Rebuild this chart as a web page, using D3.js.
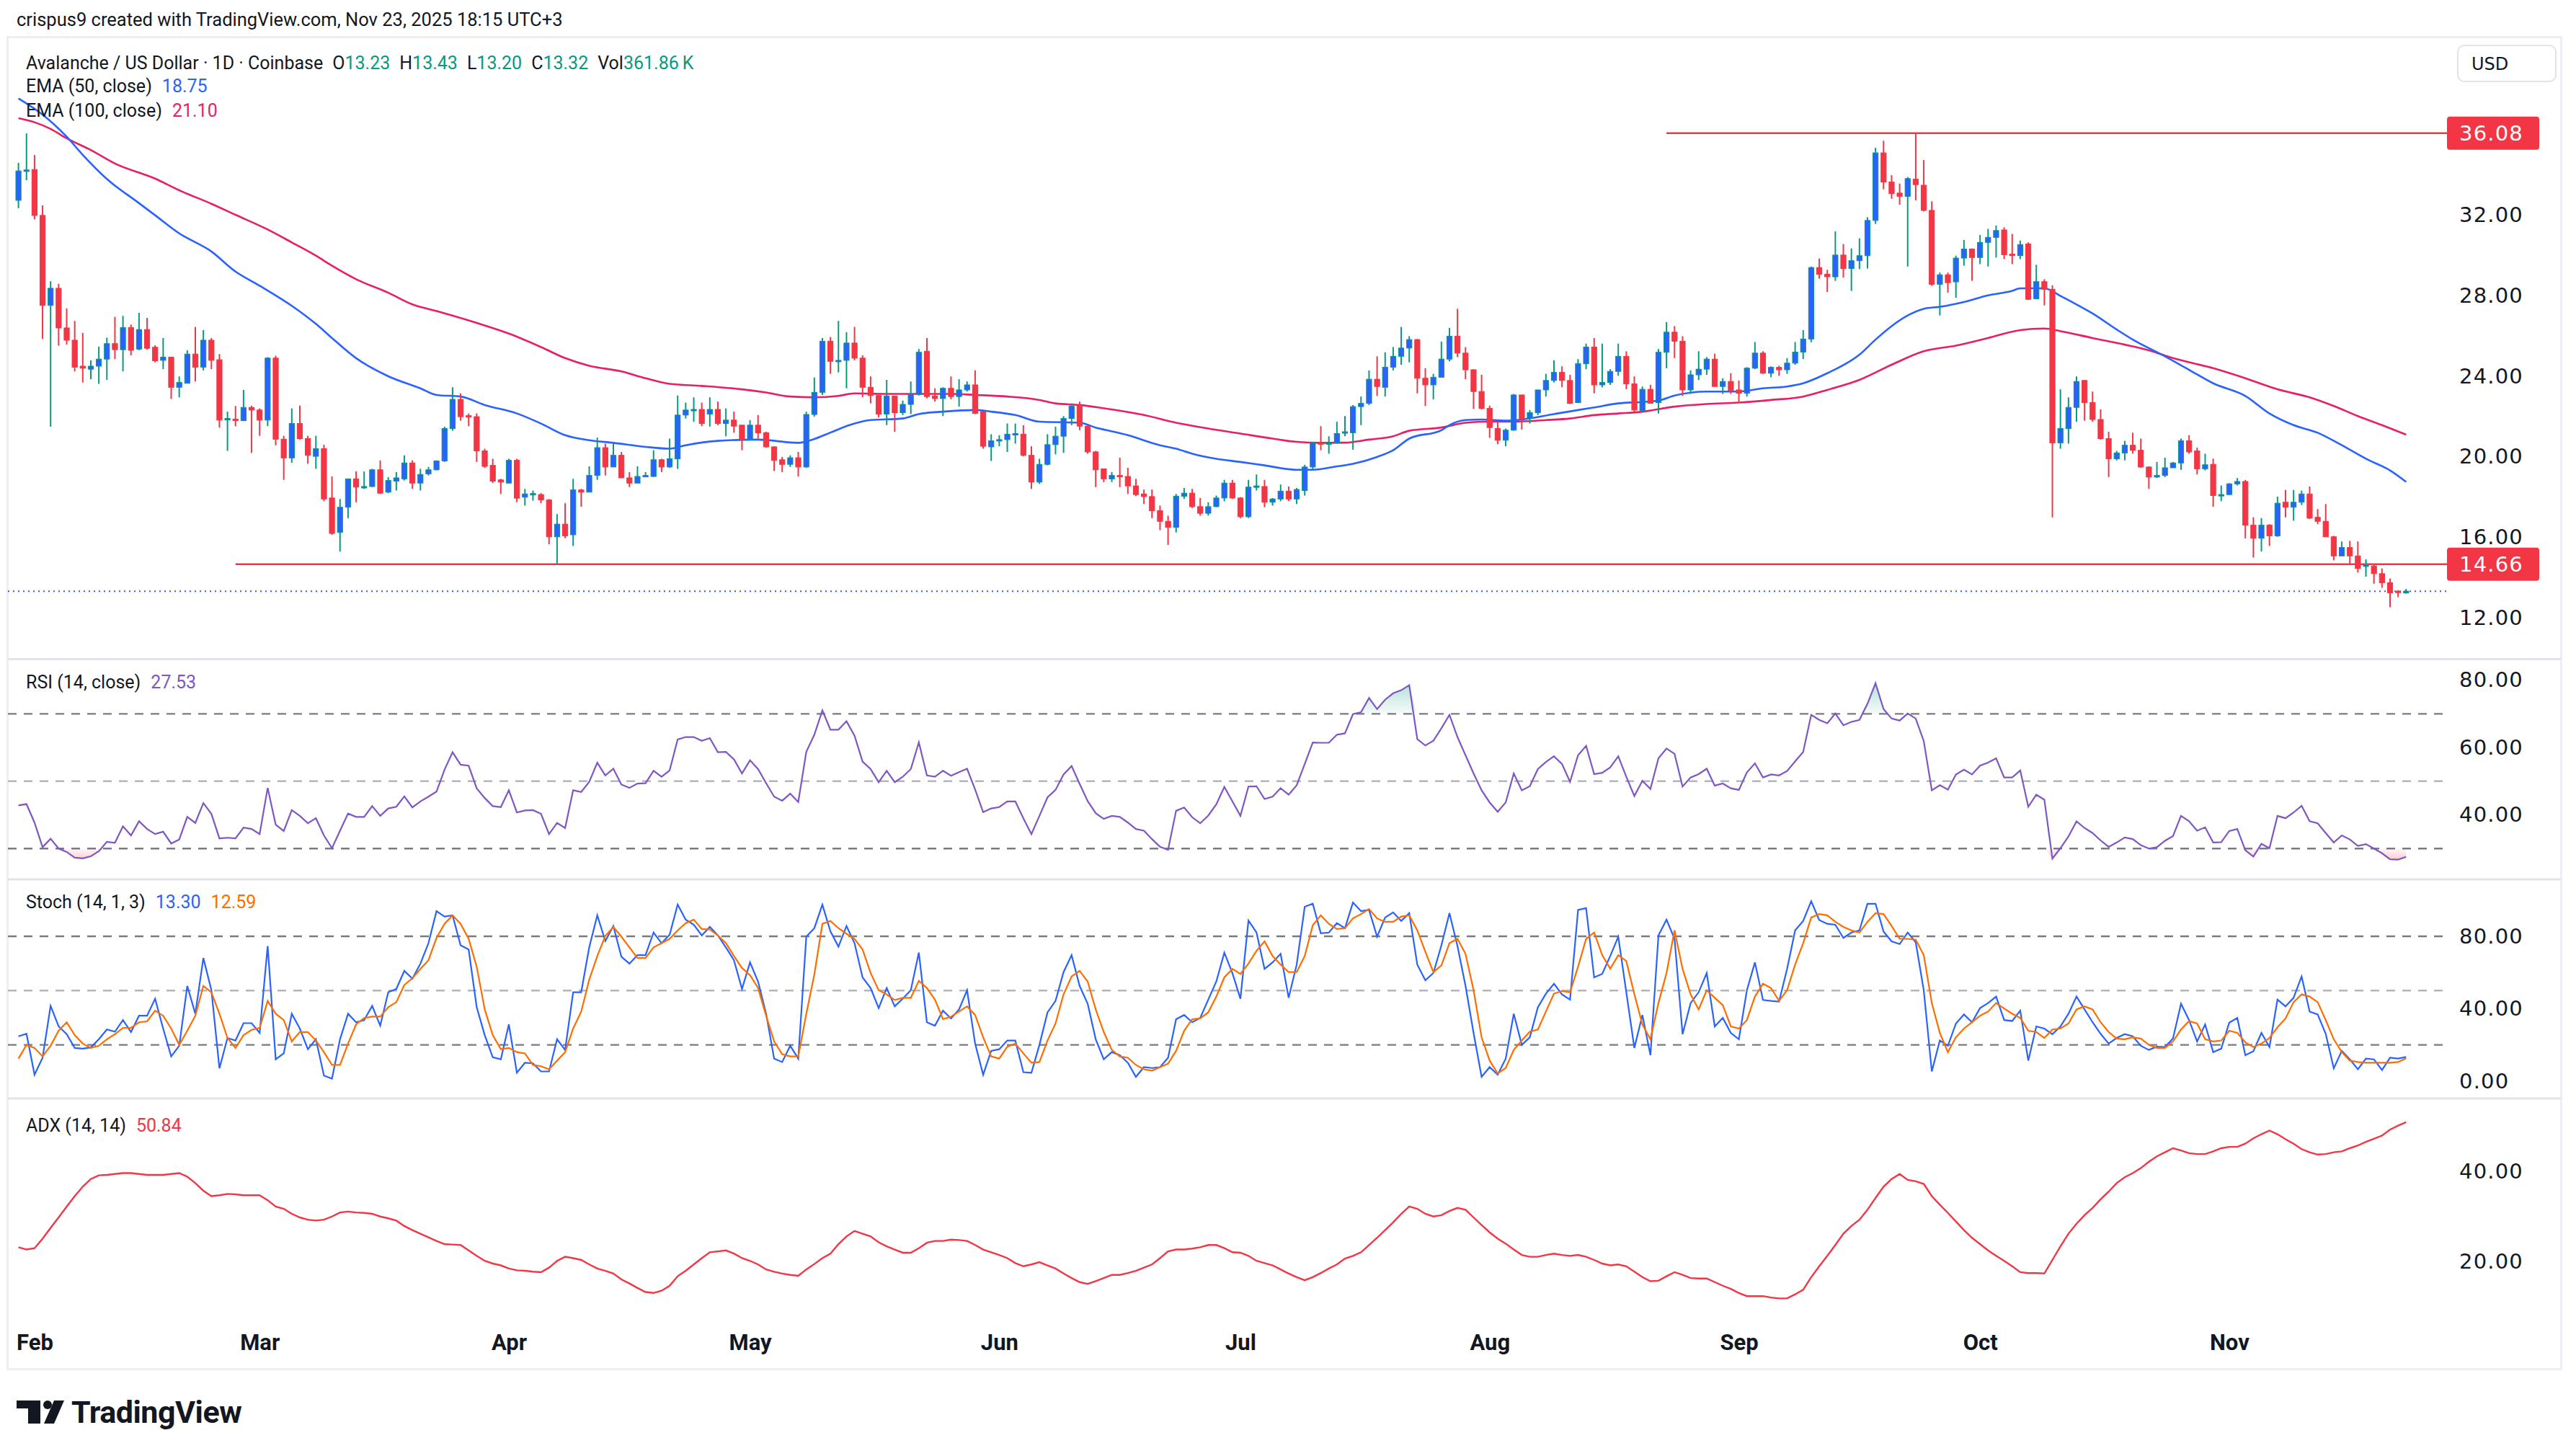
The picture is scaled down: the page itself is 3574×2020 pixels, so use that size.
<!DOCTYPE html>
<html>
<head>
<meta charset="utf-8">
<script src="https://d3js.org/d3.v7.min.js"></script>
<style>
  html, body { margin: 0; padding: 0; background: #fff; }
  svg { display: block; }
</style>
</head>
<body>
<div id="chart"></div>
<script>

// ---- data (daily bars, first bar = 2025-01-30) ----
var firstBar = "2025-01-30";

var opens = [
  32.74, 34.2, 34.27, 31.99, 27.52, 28.37, 26.4, 25.79, 24.5, 24.35, 24.5, 24.85,
  25.62, 25.32, 26.42, 25.35, 26.32, 25.44, 24.79, 24.95, 23.45, 23.65,
  25.1, 24.45, 25.79, 24.82, 21.85, 21.87, 21.79, 22.45, 22.32, 21.82,
  24.9, 20.87, 19.94, 21.65, 20.9, 20.02, 20.4, 17.95, 16.24, 17.49,
  18.9, 18.5, 18.52, 19.35, 18.24, 18.79, 18.9, 19.69, 18.69, 19.15,
  19.35, 19.79, 21.4, 22.85, 22.04, 21.99, 20.29, 19.57, 18.85, 18.69,
  19.82, 17.99, 18.15, 18.12, 17.85, 16.02, 16.65, 16.12, 18.35, 18.24,
  19.07, 20.45, 19.49, 20.07, 18.95, 18.69, 19.02, 19.02, 19.85, 19.49,
  19.9, 22.07, 22.32, 22.35, 22.12, 22.35, 21.65, 21.82, 21.57, 20.85,
  21.57, 21.19, 20.49, 19.85, 19.62, 19.95, 19.49, 22.1, 23.2, 25.74,
  24.74, 24.79, 25.65, 24.9, 23.45, 23.04, 22.12, 23.02, 22.19, 22.6,
  23.1, 25.24, 23.02, 22.89, 23.4, 22.99, 23.32, 23.57, 22.24, 20.49,
  20.79, 20.85, 21.12, 21.12, 20.07, 18.74, 19.62, 20.6, 21.02, 21.9,
  22.52, 21.52, 20.24, 19.4, 18.9, 19.07, 19.02, 18.55, 18.15, 18.02,
  17.32, 16.79, 16.49, 18.04, 18.19, 17.52, 17.19, 17.52, 17.95, 18.69,
  17.95, 17.02, 18.52, 18.52, 17.74, 17.9, 18.29, 17.9, 18.32, 19.49,
  20.69, 20.65, 20.69, 21.19, 21.19, 22.49, 22.65, 23.85, 23.45, 24.45,
  24.99, 25.4, 25.82, 23.9, 23.57, 23.95, 24.85, 25.99, 25.15, 24.32,
  23.24, 22.4, 21.4, 20.82, 21.32, 23.07, 21.9, 22.19, 23.32, 23.79,
  24.19, 23.79, 22.69, 24.62, 25.45, 23.57, 23.69, 24.24, 24.99, 23.62,
  22.29, 23.35, 22.69, 25.19, 26.19, 25.74, 23.32, 24.07, 24.35, 24.85,
  23.49, 23.74, 23.32, 23.15, 24.4, 25.15, 24.15, 24.44, 24.32, 24.65,
  25.2, 25.85, 29.4, 29.07, 28.94, 30.02, 29.35, 29.74, 29.99, 31.74,
  35.1, 33.65, 33.1, 32.94, 33.79, 33.49, 32.24, 28.57, 29.04, 28.69,
  29.87, 30.32, 29.9, 30.65, 30.9, 31.27, 30.07, 29.99, 30.57, 27.85,
  28.7, 28.32, 20.69, 21.4, 22.45, 23.79, 22.69, 21.85, 20.9, 19.9,
  20.19, 20.57, 20.32, 19.49, 18.99, 19.07, 19.45, 19.69, 20.79, 20.29,
  19.4, 19.62, 18.07, 18.12, 18.65, 18.77, 16.6, 15.95, 16.6, 16.07,
  17.74, 17.49, 17.74, 18.15, 16.99, 16.79, 16.02, 15.07, 15.49, 15.07,
  14.57, 14.57, 14.19, 13.74, 13.32, 13.23
];

var highs = [
  34.6, 36.07, 34.99, 32.49, 28.72, 28.59, 27.37, 26.75, 26.15, 24.79, 25.47, 25.92,
  26.95, 27.0, 26.57, 27.15, 26.9, 25.54, 25.9, 24.95, 23.99, 25.29,
  26.45, 26.29, 25.9, 25.1, 22.24, 22.52, 23.32, 22.54, 22.4, 24.95,
  25.02, 21.04, 22.4, 22.54, 21.04, 21.04, 20.6, 19.02, 17.9, 18.9,
  19.27, 19.27, 19.4, 19.82, 18.99, 19.24, 20.07, 19.82, 19.4, 19.49,
  19.82, 21.49, 23.45, 23.15, 22.15, 22.15, 20.4, 19.9, 18.9, 19.9,
  19.9, 18.4, 18.32, 18.19, 17.9, 17.15, 17.69, 18.9, 18.4, 19.52,
  20.95, 20.65, 20.65, 20.24, 19.24, 19.52, 19.24, 20.32, 19.9, 20.9,
  23.04, 22.69, 22.95, 22.69, 22.95, 22.74, 22.4, 22.24, 21.57, 21.82,
  22.07, 21.24, 20.52, 19.99, 20.07, 20.24, 22.24, 23.94, 25.9, 25.95,
  26.75, 26.19, 26.45, 25.04, 23.99, 23.07, 23.82, 23.02, 22.79, 23.74,
  25.35, 25.9, 23.4, 23.45, 23.99, 23.85, 23.74, 24.29, 22.24, 21.12,
  21.07, 21.65, 21.65, 21.57, 20.52, 19.9, 21.12, 21.49, 22.02, 22.65,
  22.74, 21.57, 20.29, 19.4, 19.24, 19.95, 19.45, 18.9, 18.37, 18.37,
  17.57, 17.07, 18.15, 18.45, 18.4, 17.95, 17.74, 18.07, 18.85, 18.85,
  17.99, 18.85, 19.12, 18.85, 17.95, 18.62, 18.52, 18.45, 19.6, 20.74,
  21.52, 21.02, 21.74, 22.02, 22.57, 22.99, 24.29, 24.99, 25.19, 25.45,
  26.45, 25.99, 25.85, 24.4, 24.12, 25.72, 26.4, 27.35, 25.45, 24.35,
  24.07, 22.54, 21.74, 21.4, 23.12, 23.07, 22.32, 23.32, 24.12, 24.79,
  24.49, 24.07, 24.85, 25.62, 25.9, 25.62, 24.35, 25.62, 25.24, 23.99,
  23.49, 23.57, 25.35, 26.69, 26.49, 25.99, 24.29, 25.24, 24.95, 25.12,
  23.9, 24.15, 23.79, 24.45, 25.7, 25.24, 24.49, 24.52, 24.9, 25.7,
  26.29, 29.45, 29.85, 29.29, 31.2, 30.57, 30.35, 30.85, 31.9, 35.35,
  35.7, 33.99, 33.57, 33.9, 36.08, 34.74, 32.69, 29.15, 29.15, 29.99,
  30.77, 30.35, 31.02, 31.32, 31.49, 31.4, 31.07, 30.74, 30.65, 29.54,
  28.82, 28.52, 23.35, 22.95, 23.99, 23.82, 23.24, 22.35, 21.24, 20.29,
  20.79, 21.19, 20.9, 19.52, 19.74, 19.95, 19.74, 20.9, 21.07, 20.45,
  20.15, 19.9, 18.57, 18.69, 18.94, 18.85, 16.99, 16.95, 16.65, 18.02,
  18.35, 18.35, 18.32, 18.52, 17.4, 17.65, 16.07, 15.79, 15.82, 15.79,
  14.9, 14.65, 14.45, 13.95, 13.37, 13.43
];

var lows = [
  32.35, 33.74, 31.79, 25.85, 21.49, 25.52, 25.57, 24.24, 23.69, 23.85, 23.62, 23.82,
  24.85, 24.24, 25.04, 25.29, 25.32, 24.69, 24.35, 22.87, 22.95, 23.65,
  23.74, 24.29, 24.35, 21.45, 20.29, 21.52, 21.79, 20.19, 21.04, 21.52,
  20.57, 18.85, 19.7, 20.85, 19.65, 19.4, 17.79, 16.12, 15.29, 16.95,
  17.74, 18.4, 18.49, 18.15, 18.19, 18.32, 18.82, 18.4, 18.32, 19.07,
  19.32, 19.74, 21.29, 21.79, 21.52, 19.74, 19.45, 18.69, 18.15, 18.69,
  17.74, 17.57, 17.82, 17.69, 15.65, 14.66, 15.95, 15.57, 17.52, 18.24,
  18.85, 19.07, 19.49, 18.95, 18.49, 18.69, 18.99, 18.99, 19.24, 19.45,
  19.4, 21.9, 21.74, 21.52, 21.5, 21.57, 21.02, 21.19, 20.32, 20.82,
  20.9, 20.45, 19.29, 19.24, 19.49, 19.02, 19.45, 21.99, 23.07, 24.12,
  24.19, 23.4, 24.79, 22.95, 22.65, 21.95, 21.57, 21.24, 22.07, 22.12,
  23.04, 22.9, 22.74, 22.02, 22.85, 22.49, 23.24, 22.12, 20.4, 19.79,
  20.52, 20.24, 20.65, 20.02, 18.4, 18.65, 19.57, 20.12, 20.19, 21.57,
  21.32, 20.15, 18.49, 18.74, 18.74, 18.49, 18.15, 18.04, 17.65, 16.95,
  16.35, 15.62, 16.24, 17.9, 17.45, 17.07, 17.07, 17.49, 17.79, 17.9,
  16.95, 16.95, 18.32, 17.49, 17.57, 17.79, 17.79, 17.65, 18.07, 19.32,
  20.32, 20.15, 20.65, 21.02, 20.35, 21.57, 22.57, 23.02, 22.99, 24.29,
  24.57, 24.69, 23.15, 22.52, 22.85, 23.95, 24.74, 24.95, 23.85, 22.37,
  22.35, 20.94, 20.62, 20.52, 21.29, 21.35, 21.65, 22.07, 22.99, 23.69,
  23.45, 22.62, 22.69, 24.35, 23.15, 23.45, 23.57, 24.02, 23.35, 22.24,
  22.19, 22.65, 22.15, 24.4, 24.9, 23.02, 23.12, 23.82, 24.07, 23.49,
  23.12, 23.12, 22.69, 22.99, 24.35, 24.12, 23.95, 24.02, 24.12, 24.57,
  24.85, 25.69, 28.85, 28.19, 28.74, 28.9, 28.24, 29.32, 29.35, 31.57,
  33.29, 32.82, 32.52, 29.45, 32.74, 32.19, 28.49, 27.02, 28.15, 27.9,
  29.49, 28.74, 29.57, 29.45, 29.9, 29.82, 29.57, 29.82, 27.79, 27.82,
  27.52, 16.99, 20.4, 20.65, 21.74, 21.79, 21.74, 20.85, 18.99, 19.82,
  19.82, 20.15, 19.45, 18.4, 18.95, 18.99, 19.45, 19.35, 20.15, 19.12,
  19.32, 17.52, 17.79, 18.1, 18.57, 15.94, 14.99, 15.29, 15.57, 16.02,
  16.99, 16.82, 17.6, 16.9, 16.65, 16.02, 14.85, 15.07, 14.62, 14.24,
  14.04, 13.69, 13.49, 12.52, 13.02, 13.20
];

var closes = [
  34.2, 34.25, 31.99, 27.52, 28.37, 26.4, 25.79, 24.45, 24.4, 24.5, 24.85, 25.62,
  25.32, 26.42, 25.29, 26.32, 25.39, 24.77, 24.95, 23.45, 23.69, 25.1,
  24.45, 25.79, 24.79, 21.82, 21.9, 21.79, 22.45, 22.32, 21.82, 24.9,
  20.87, 19.94, 21.65, 20.9, 20.07, 20.4, 17.9, 16.19, 17.49, 18.9,
  18.49, 18.52, 19.35, 18.19, 18.82, 18.95, 19.69, 18.69, 19.12, 19.35,
  19.79, 21.4, 22.85, 21.99, 21.99, 20.29, 19.52, 18.79, 18.74, 19.82,
  17.94, 18.15, 18.17, 17.85, 16.02, 16.65, 16.07, 18.35, 18.24, 19.07,
  20.45, 19.49, 20.07, 18.95, 18.69, 19.02, 19.07, 19.85, 19.49, 19.9,
  22.07, 22.32, 22.35, 21.65, 22.35, 21.65, 21.82, 21.52, 20.85, 21.57,
  21.19, 20.49, 19.82, 19.62, 19.95, 19.49, 22.1, 23.2, 25.74, 24.74,
  24.79, 25.65, 24.9, 23.45, 23.04, 22.12, 23.02, 22.19, 22.6, 23.1,
  25.19, 22.99, 22.89, 23.4, 22.99, 23.32, 23.57, 22.15, 20.52, 20.79,
  20.85, 21.12, 21.15, 20.07, 18.74, 19.62, 20.6, 21.02, 21.9, 22.52,
  21.52, 20.24, 19.35, 18.9, 19.07, 19.02, 18.55, 18.12, 18.02, 17.32,
  16.79, 16.49, 18.04, 18.19, 17.52, 17.19, 17.52, 17.95, 18.69, 17.95,
  17.02, 18.49, 18.55, 17.74, 17.9, 18.29, 17.9, 18.37, 19.49, 20.69,
  20.65, 20.69, 21.15, 21.24, 22.49, 22.65, 23.85, 23.49, 24.45, 24.99,
  25.4, 25.82, 23.9, 23.57, 23.95, 24.85, 25.99, 25.15, 24.32, 23.24,
  22.4, 21.45, 20.82, 21.32, 23.07, 21.9, 22.19, 23.32, 23.79, 24.19,
  23.79, 22.65, 24.62, 25.45, 23.57, 23.69, 24.24, 24.99, 23.62, 22.32,
  23.35, 22.65, 25.19, 26.19, 25.74, 23.32, 24.07, 24.35, 24.85, 23.49,
  23.74, 23.29, 23.15, 24.4, 25.15, 24.15, 24.44, 24.32, 24.65, 25.2,
  25.85, 29.4, 29.07, 28.94, 30.02, 29.35, 29.74, 29.99, 31.74, 35.1,
  33.65, 33.07, 32.94, 33.82, 33.52, 32.24, 28.57, 29.04, 28.65, 29.87,
  30.32, 29.9, 30.65, 30.9, 31.24, 30.04, 30.02, 30.54, 27.82, 28.7,
  28.32, 20.69, 21.4, 22.45, 23.74, 22.69, 21.85, 20.9, 19.9, 20.19,
  20.57, 20.32, 19.49, 18.99, 19.07, 19.45, 19.69, 20.79, 20.24, 19.4,
  19.6, 18.07, 18.12, 18.65, 18.77, 16.6, 15.95, 16.6, 16.07, 17.69,
  17.49, 17.74, 18.15, 16.95, 16.79, 16.02, 15.07, 15.49, 15.07, 14.45,
  14.62, 14.19, 13.74, 13.24, 13.27, 13.32
];

// EMA lines: [bar index, value]
var ema50 = [
  [0, 37.8], [3, 37.0], [6, 35.9], [8, 35.0], [11, 33.8], [15, 32.6], [17, 32.0], [20, 31.1],
  [24, 30.2], [27, 29.2], [30, 28.5], [34, 27.5], [37, 26.6], [39, 25.9], [42, 24.9], [46, 24.0],
  [50, 23.4], [52, 23.07], [55, 22.99], [58, 22.57], [62, 22.15], [65, 21.65], [68, 21.07],
  [71, 20.82], [74, 20.69], [78, 20.49], [81, 20.4], [83, 20.57], [87, 20.79], [92, 20.85],
  [97, 20.69], [99, 20.88], [101, 21.2], [104, 21.65], [106, 21.82], [110, 21.9], [112, 22.12],
  [115, 22.24], [119, 22.32], [121, 22.24], [124, 22.07], [127, 21.74], [132, 21.69], [134, 21.45],
  [138, 21.07], [142, 20.57], [144, 20.4], [146, 20.15], [149, 19.9], [152, 19.74], [155, 19.57],
  [159, 19.35], [161, 19.35], [164, 19.52], [166, 19.65], [169, 19.99], [171, 20.32], [173, 20.9],
  [177, 21.32], [178, 21.57], [180, 21.82], [182, 21.85], [185, 21.79], [187, 21.85], [191, 22.12],
  [194, 22.32], [196, 22.45], [199, 22.65], [202, 22.72], [204, 22.79], [206, 23.04], [210, 23.24],
  [214, 23.24], [217, 23.4], [220, 23.49], [222, 23.65], [225, 24.15], [229, 25.07], [231, 25.82],
  [233, 26.49], [235, 27.02], [237, 27.35], [239, 27.45], [242, 27.69], [245, 28.02], [248, 28.24],
  [249, 28.37], [252, 28.37], [254, 27.99], [256, 27.57], [258, 27.12], [261, 26.32], [263, 25.82],
  [267, 24.99], [270, 24.32], [273, 23.65], [277, 23.02], [280, 22.15], [283, 21.57], [286, 21.19],
  [289, 20.57], [292, 19.9], [295, 19.32], [297, 18.75]
];

var ema100 = [
  [0, 36.82], [2, 36.62], [4, 36.29], [6, 35.82], [9, 35.24], [12, 34.57], [17, 33.82], [20, 33.24],
  [24, 32.57], [27, 32.02], [31, 31.29], [34, 30.65], [37, 29.99], [39, 29.49], [42, 28.82],
  [46, 28.15], [49, 27.57], [52, 27.24], [57, 26.65], [61, 26.12], [65, 25.45], [68, 24.9],
  [71, 24.52], [75, 24.24], [78, 23.9], [81, 23.62], [85, 23.52], [90, 23.35], [93, 23.19],
  [96, 22.99], [99, 22.95], [102, 23.02], [104, 23.15], [108, 23.12], [116, 23.12], [119, 23.07],
  [123, 22.99], [127, 22.82], [129, 22.65], [132, 22.57], [136, 22.35], [140, 22.07], [144, 21.69],
  [148, 21.4], [152, 21.15], [156, 20.9], [159, 20.74], [162, 20.69], [165, 20.7], [168, 20.85],
  [171, 21.02], [173, 21.29], [177, 21.45], [180, 21.69], [183, 21.74], [186, 21.74], [190, 21.82],
  [193, 21.9], [196, 22.07], [199, 22.15], [202, 22.24], [206, 22.49], [210, 22.62], [214, 22.69],
  [218, 22.82], [222, 22.99], [225, 23.32], [229, 23.82], [233, 24.57], [237, 25.24], [241, 25.52],
  [245, 25.9], [249, 26.29], [252, 26.37], [254, 26.24], [258, 25.9], [262, 25.57], [265, 25.29],
  [268, 24.9], [273, 24.4], [277, 23.9], [281, 23.35], [285, 22.95], [288, 22.52], [291, 22.02],
  [294, 21.57], [297, 21.10]
];

var rsi = [
  42.8, 43.2, 37.7, 30.4, 32.9, 30.0, 29.0, 27.3, 27.1, 27.7, 29.2, 32.0,
  31.7, 36.6, 33.9, 38.1, 35.8, 34.3, 35.0, 31.5, 32.7, 39.4,
  37.6, 43.5, 40.3, 33.0, 33.2, 33.0, 36.2, 35.8, 34.3, 48.0,
  37.1, 35.2, 41.4, 39.7, 37.5, 39.0, 33.9, 30.1, 35.3, 40.4,
  39.4, 39.4, 42.6, 39.7, 41.9, 42.4, 45.5, 42.2, 44.0, 45.4,
  46.9, 53.4, 58.6, 54.9, 54.6, 47.9, 45.0, 42.6, 42.3, 47.3,
  40.7, 41.3, 41.4, 40.3, 34.3, 37.6, 36.1, 47.3, 46.8, 49.8,
  55.5, 51.7, 53.7, 49.0, 48.0, 49.3, 49.4, 53.1, 51.3, 53.2,
  62.4, 63.1, 63.1, 62.0, 62.8, 58.6, 58.7, 56.5, 52.3, 56.2,
  53.6, 49.4, 45.4, 44.2, 46.3, 43.8, 58.7, 63.8, 71.0, 65.3,
  65.3, 67.8, 63.5, 55.8, 53.6, 49.7, 53.1, 49.7, 51.3, 53.6,
  61.5, 51.7, 51.3, 53.1, 51.6, 52.7, 53.7, 47.5, 40.8, 41.9,
  42.3, 44.0, 44.0, 39.0, 34.3, 39.7, 45.2, 47.4, 52.0, 54.5,
  49.2, 44.1, 40.5, 38.8, 39.7, 39.4, 37.7, 35.8, 35.3, 32.8,
  30.5, 29.6, 41.2, 42.2, 39.3, 37.5, 39.8, 43.1, 48.3, 44.0,
  39.7, 48.4, 48.5, 44.7, 45.4, 47.9, 46.0, 48.8, 55.1, 61.5,
  61.4, 61.4, 63.8, 64.2, 69.9, 70.5, 74.7, 71.4, 74.2, 76.1,
  77.0, 78.5, 62.5, 60.6, 62.0, 65.7, 69.7, 63.1, 57.7, 52.3,
  47.3, 43.7, 40.9, 43.7, 52.3, 47.3, 48.5, 53.6, 55.7, 57.4,
  55.1, 49.8, 57.7, 60.5, 52.1, 52.5, 54.1, 57.4, 51.3, 45.6,
  50.1, 47.7, 56.8, 59.7, 58.1, 48.4, 51.1, 52.1, 53.7, 48.7,
  49.3, 47.9, 47.4, 52.6, 55.3, 51.1, 52.0, 51.7, 53.0, 55.9,
  58.7, 69.7, 68.2, 67.2, 70.1, 66.6, 67.6, 68.2, 73.0, 79.1,
  71.4, 68.6, 68.0, 70.1, 68.6, 61.9, 47.3, 48.8, 47.5, 52.0,
  53.4, 52.0, 54.6, 55.5, 56.8, 51.1, 51.1, 53.2, 42.4, 46.0,
  44.5, 27.0, 30.1, 33.6, 38.1, 36.1, 34.6, 32.4, 30.5, 31.8,
  33.3, 32.8, 31.0, 30.0, 30.4, 32.3, 33.7, 39.7, 38.1, 35.3,
  36.3, 31.8, 31.9, 35.2, 35.8, 29.5, 27.6, 31.4, 30.1, 39.7,
  39.0, 40.7, 42.7, 38.1, 37.5, 34.6, 31.8, 33.9, 32.7, 30.8,
  31.3, 30.0, 28.6, 26.8, 26.7, 27.53
];

var stochK = [
  24.7, 26.1, 3.5, 12.9, 41.5, 30.2, 25.9, 18.3, 17.9, 18.6, 23.1, 28.5,
  27.3, 33.7, 27.1, 36.1, 36.1, 45.5, 29.0, 13.6, 19.5, 52.6,
  37.2, 68.0, 50.2, 7.0, 23.8, 22.4, 32.0, 32.0, 26.6, 74.6,
  12.0, 15.3, 37.2, 29.0, 17.6, 23.1, 3.0, 1.3, 23.1, 37.2,
  32.5, 33.7, 41.5, 30.6, 49.1, 50.9, 60.9, 56.6, 64.9, 76.2,
  93.9, 90.9, 91.6, 75.0, 72.7, 40.8, 25.4, 13.1, 12.0, 31.3,
  4.6, 10.1, 9.8, 5.3, 5.3, 23.1, 17.2, 49.1, 49.1, 73.9,
  91.6, 77.4, 85.7, 68.7, 64.9, 69.6, 69.6, 82.1, 76.2, 80.9,
  97.5, 89.2, 86.4, 80.5, 85.2, 80.5, 73.9, 66.8, 50.9, 65.6,
  55.0, 37.2, 12.4, 10.5, 19.5, 12.4, 79.8, 84.5, 97.5, 82.8,
  74.3, 85.7, 76.2, 57.3, 51.4, 40.3, 51.4, 41.3, 45.5, 50.2,
  71.0, 32.5, 30.6, 38.9, 34.6, 39.6, 50.2, 20.7, 3.5, 16.7,
  17.6, 22.4, 22.4, 4.9, 4.6, 20.0, 37.9, 44.3, 60.2, 69.6,
  52.6, 42.7, 23.1, 12.0, 16.0, 14.3, 10.1, 2.3, 7.7, 7.2,
  7.7, 12.9, 34.2, 36.5, 32.5, 34.9, 45.0, 55.0, 71.0, 59.7,
  45.5, 88.7, 82.1, 62.0, 65.6, 70.3, 46.0, 64.4, 96.3, 98.0,
  81.7, 82.1, 87.3, 84.5, 98.7, 93.9, 94.6, 79.8, 90.4, 93.2,
  88.5, 92.8, 64.4, 55.7, 59.7, 75.0, 92.8, 74.6, 52.6, 26.6,
  2.3, 7.7, 3.5, 12.4, 37.2, 20.0, 24.2, 40.8, 48.3, 53.8,
  47.9, 45.0, 94.6, 95.6, 57.3, 59.2, 69.1, 79.8, 49.1, 18.3,
  36.5, 14.3, 80.5, 89.2, 78.6, 25.9, 43.1, 49.1, 59.7, 30.2,
  34.9, 26.6, 23.1, 50.2, 65.6, 44.8, 44.3, 43.9, 62.0, 83.3,
  88.5, 99.4, 89.0, 86.9, 86.4, 79.1, 82.1, 83.3, 98.0, 98.0,
  82.6, 77.2, 75.7, 82.1, 76.7, 50.2, 5.3, 22.4, 19.5, 31.8,
  36.8, 32.5, 40.3, 43.1, 46.7, 33.7, 33.2, 38.9, 11.3, 30.2,
  29.0, 25.9, 30.2, 37.2, 46.7, 39.6, 32.5, 26.1, 20.7, 23.8,
  25.9, 24.7, 19.5, 17.2, 19.0, 18.8, 23.5, 42.7, 33.7, 21.9,
  31.3, 16.0, 17.9, 32.3, 34.9, 14.3, 16.5, 26.6, 18.8, 45.0,
  41.3, 46.0, 57.8, 38.4, 36.8, 26.1, 7.0, 16.7, 12.0, 6.5,
  12.4, 12.0, 6.1, 12.9, 12.4, 13.30
];

var stochD = [
  12.4, 20.0, 18.3, 13.6, 19.5, 27.8, 32.5, 25.4, 20.7, 18.3, 19.5, 23.1,
  25.9, 29.4, 29.4, 32.5, 33.0, 38.9, 36.1, 29.0, 20.0, 27.8,
  36.1, 52.6, 49.1, 37.2, 23.8, 18.3, 25.4, 28.3, 29.4, 44.3,
  37.2, 33.7, 21.9, 27.1, 27.1, 22.4, 16.0, 8.9, 8.9, 20.7,
  31.3, 34.9, 35.6, 35.6, 40.8, 43.6, 53.1, 56.8, 62.0, 66.8,
  79.1, 86.9, 91.6, 86.9, 78.6, 63.2, 39.6, 25.4, 17.6, 18.3,
  16.0, 15.3, 8.9, 8.2, 6.5, 11.3, 16.0, 29.0, 38.4, 56.1,
  69.1, 80.2, 85.2, 79.8, 73.9, 68.0, 68.0, 73.9, 76.2, 78.6,
  83.3, 87.3, 89.2, 84.0, 83.8, 80.5, 76.2, 69.1, 62.5, 58.5,
  51.4, 36.1, 21.9, 14.8, 13.6, 13.6, 37.2, 58.9, 86.9, 88.5,
  84.5, 81.4, 78.6, 72.7, 59.7, 50.2, 47.9, 44.8, 46.0, 46.0,
  55.4, 51.4, 45.0, 34.2, 35.6, 38.4, 41.3, 36.5, 24.2, 13.6,
  12.4, 19.0, 20.7, 15.3, 10.1, 10.5, 22.4, 31.8, 47.9, 57.8,
  60.9, 55.0, 39.6, 27.1, 17.2, 13.6, 12.9, 8.9, 6.5, 5.8,
  7.7, 9.6, 16.7, 27.8, 34.2, 34.6, 38.0, 46.7, 57.3, 62.0,
  59.2, 64.9, 72.0, 77.2, 69.1, 64.4, 60.2, 60.2, 69.1, 86.1,
  91.6, 86.9, 84.0, 84.5, 89.9, 92.3, 95.1, 89.9, 88.0, 88.0,
  90.9, 91.6, 83.3, 71.5, 60.2, 63.9, 76.2, 78.6, 70.3, 50.2,
  24.2, 11.3, 4.2, 7.2, 17.2, 22.4, 27.3, 28.5, 38.4, 48.3,
  49.8, 49.1, 63.2, 78.6, 82.1, 69.6, 62.0, 69.6, 66.3, 48.0,
  31.3, 23.1, 43.1, 59.7, 83.3, 62.0, 47.9, 39.6, 50.2, 46.0,
  42.0, 30.2, 29.0, 33.7, 46.7, 53.8, 51.4, 44.3, 50.2, 64.4,
  76.2, 90.4, 92.3, 91.6, 88.0, 85.2, 83.3, 82.1, 88.0, 92.8,
  92.3, 85.7, 78.6, 78.6, 78.1, 69.6, 43.1, 26.6, 16.0, 24.2,
  29.0, 32.5, 36.1, 38.4, 43.1, 40.1, 37.2, 34.9, 27.8, 27.1,
  23.8, 28.5, 29.0, 31.8, 39.6, 41.3, 39.6, 32.5, 27.1, 23.5,
  23.1, 24.2, 23.5, 20.0, 18.3, 18.3, 21.9, 28.5, 33.2, 31.8,
  23.1, 21.9, 22.4, 27.8, 26.6, 21.4, 18.8, 20.7, 23.8, 29.7,
  34.6, 43.6, 47.9, 46.7, 43.6, 33.7, 23.1, 16.0, 11.3, 10.5,
  10.1, 10.1, 10.1, 10.1, 10.5, 12.59
];

var adx = [
  23.2, 22.7, 23.0, 25.1, 27.5, 29.8, 32.2, 34.5, 36.6, 38.3, 39.1, 39.2,
  39.4, 39.6, 39.6, 39.4, 39.2, 39.2, 39.2, 39.4, 39.6, 38.8,
  37.4, 35.7, 34.5, 34.7, 35.0, 34.9, 34.7, 34.7, 34.7, 33.6,
  32.2, 31.7, 30.6, 29.8, 29.3, 29.1, 29.3, 30.0, 30.9, 31.1,
  30.9, 30.8, 30.6, 30.0, 29.6, 29.1, 27.9, 27.0, 26.2, 25.4,
  24.6, 23.9, 23.8, 23.7, 22.5, 21.3, 20.2, 19.6, 19.2, 18.5,
  18.1, 18.0, 17.8, 17.7, 18.7, 20.2, 21.1, 20.8, 20.4, 19.4,
  18.5, 18.0, 17.4, 16.1, 15.2, 14.2, 13.3, 13.1, 13.6, 14.7,
  16.8, 18.0, 19.4, 20.8, 22.1, 22.3, 22.5, 21.8, 20.8, 20.2,
  19.4, 18.3, 17.8, 17.4, 17.1, 16.9, 18.3, 19.5, 20.8, 21.8,
  23.9, 25.6, 26.8, 26.2, 25.6, 24.3, 23.4, 22.7, 22.0, 22.0,
  23.0, 24.2, 24.6, 24.6, 24.9, 24.8, 24.6, 23.7, 22.7, 22.1,
  21.5, 20.8, 19.7, 19.0, 19.4, 19.9, 19.2, 18.5, 17.4, 16.4,
  15.5, 15.1, 15.7, 16.4, 17.1, 17.1, 17.5, 18.0, 18.7, 19.4,
  20.8, 22.3, 22.7, 22.7, 22.9, 23.2, 23.7, 23.7, 23.0, 22.1,
  22.0, 21.3, 20.2, 19.7, 19.2, 18.3, 17.4, 16.6, 15.9, 16.6,
  17.5, 18.5, 19.4, 20.7, 21.3, 22.1, 23.7, 25.3, 27.0, 28.7,
  30.6, 32.2, 31.7, 30.6, 30.0, 30.3, 31.2, 31.9, 31.5, 29.8,
  28.1, 26.5, 25.1, 24.0, 22.7, 21.5, 21.1, 21.1, 21.5, 21.8,
  21.5, 21.3, 21.5, 21.1, 20.4, 19.6, 19.2, 19.4, 19.0, 17.8,
  16.6, 15.7, 15.8, 16.8, 17.7, 17.1, 16.4, 16.3, 16.3, 15.5,
  14.7, 14.0, 13.1, 12.4, 12.4, 12.4, 12.1, 11.9, 11.9, 12.8,
  13.8, 16.6, 19.0, 21.3, 23.7, 26.2, 27.9, 29.3, 31.5, 34.1,
  36.6, 38.3, 39.4, 38.1, 37.8, 37.2, 34.5, 32.6, 30.8, 28.9,
  27.0, 25.3, 23.9, 22.5, 21.3, 20.2, 19.0, 17.7, 17.5, 17.5,
  17.4, 20.4, 23.4, 26.2, 28.4, 30.3, 31.9, 33.8, 35.5, 37.4,
  38.7, 39.6, 40.7, 42.1, 43.3, 44.2, 45.1, 44.6, 44.0, 43.8,
  43.8, 44.4, 45.1, 45.4, 45.4, 46.1, 47.3, 48.2, 49.0, 48.2,
  47.1, 46.1, 44.9, 44.2, 43.7, 43.8, 44.2, 44.4, 45.1, 45.7,
  46.5, 47.2, 47.9, 49.2, 50.1, 50.84
];

// drawn levels
var resistance = {value: 36.08, from: "2025-08-23"};
var support = {value: 14.66, from: "2025-02-26"};
var lastPrice = 13.32;

var priceTicks = [12, 16, 20, 24, 28, 32];
var rsiTicks = [40, 60, 80];
var stochTicks = [0, 40, 80];
var adxTicks = [20, 40];

// ---- layout ----
var W = 3574, H = 2020;
var plotL = 11, plotR = 3396;
var axisX = 3412;
var mainPane = {top: 52, bottom: 913};
var rsiPane = {top: 916, bottom: 1219};
var stochPane = {top: 1221, bottom: 1523};
var adxPane = {top: 1525, bottom: 1830};

var UI_FONT = "Roboto, 'Noto Sans', sans-serif";
var AXIS_FONT = "'DejaVu Sans', Verdana, sans-serif";
var TEXT = "#131722";
var UP = "#089981", UP_BODY = "#2962ff", DOWN = "#f23645";

var parseDay = d3.utcParse("%Y-%m-%d");
var t0 = parseDay(firstBar);
var dates = closes.map(function(c, i) { return d3.utcDay.offset(t0, i); });

var x = d3.scaleUtc()
    .domain([parseDay("2025-02-01"), parseDay("2025-11-23")])
    .range([47.9, 3338.3]);
var yPrice = d3.scaleLinear().domain([12, 32]).range([857, 298.6]);
var yRsi = d3.scaleLinear().domain([40, 80]).range([1130.5, 943.6]);
var yStoch = d3.scaleLinear().domain([0, 80]).range([1499.8, 1299]);
var yAdx = d3.scaleLinear().domain([20, 40]).range([1750.5, 1625]);

var svg = d3.select("#chart").append("svg")
    .attr("width", W).attr("height", H)
    .style("background", "#fff");

var defs = svg.append("defs");
function addClip(id, pane) {
  defs.append("clipPath").attr("id", id)
    .append("rect")
      .attr("x", plotL).attr("y", pane.top)
      .attr("width", plotR - plotL).attr("height", pane.bottom - pane.top);
}
addClip("clip-main", mainPane);
addClip("clip-rsi", rsiPane);
addClip("clip-stoch", stochPane);
addClip("clip-adx", adxPane);

// gradients for rsi zones
var gUp = defs.append("linearGradient").attr("id", "rsiUp").attr("x1", 0).attr("x2", 0).attr("y1", 0).attr("y2", 1);
gUp.append("stop").attr("offset", "0%").attr("stop-color", "#089981").attr("stop-opacity", 0.3);
gUp.append("stop").attr("offset", "100%").attr("stop-color", "#089981").attr("stop-opacity", 0.04);
var gDn = defs.append("linearGradient").attr("id", "rsiDn").attr("x1", 0).attr("x2", 0).attr("y1", 0).attr("y2", 1);
gDn.append("stop").attr("offset", "0%").attr("stop-color", "#f23645").attr("stop-opacity", 0.04);
gDn.append("stop").attr("offset", "100%").attr("stop-color", "#f23645").attr("stop-opacity", 0.25);

// ---- header ----
svg.append("text")
    .attr("x", 23).attr("y", 36)
    .attr("font-family", UI_FONT).attr("font-size", 25.5).attr("fill", TEXT)
    .text("crispus9 created with TradingView.com, Nov 23, 2025 18:15 UTC+3");

// frame + pane separators
svg.append("rect")
    .attr("x", 10.5).attr("y", 51.5).attr("width", 3543).attr("height", 1848)
    .attr("fill", "none").attr("stroke", "#eceef2").attr("stroke-width", 3);

[914.5, 1220, 1524].forEach(function(yy) {
  svg.append("line")
      .attr("x1", 11).attr("x2", 3553).attr("y1", yy).attr("y2", yy)
      .attr("stroke", "#e0e3eb").attr("stroke-width", 3);
});

// ---- main pane ----
var main = svg.append("g").attr("clip-path", "url(#clip-main)");

var bars = closes.map(function(c, i) {
  return {date: dates[i], o: opens[i], h: highs[i], l: lows[i], c: c};
});

// ema lines
function emaSeries(arr) {
  return arr.map(function(p) { return {date: dates[p[0]], v: p[1]}; });
}
var emaLine = d3.line()
    .x(function(d) { return x(d.date); })
    .y(function(d) { return yPrice(d.v); })
    .curve(d3.curveMonotoneX);

main.append("path").datum(emaSeries(ema100))
    .attr("d", emaLine).attr("fill", "none")
    .attr("stroke", "#e91e63").attr("stroke-width", 2.6);
main.append("path").datum(emaSeries(ema50))
    .attr("d", emaLine).attr("fill", "none")
    .attr("stroke", "#2962ff").attr("stroke-width", 2.6);

// level lines
main.append("line")
    .attr("x1", x(parseDay(support.from))).attr("x2", plotR)
    .attr("y1", yPrice(support.value)).attr("y2", yPrice(support.value))
    .attr("stroke", DOWN).attr("stroke-width", 2.5);
main.append("line")
    .attr("x1", x(parseDay(resistance.from))).attr("x2", plotR)
    .attr("y1", yPrice(resistance.value)).attr("y2", yPrice(resistance.value))
    .attr("stroke", DOWN).attr("stroke-width", 2.5);
main.append("line")
    .attr("x1", plotL).attr("x2", plotR)
    .attr("y1", yPrice(lastPrice)).attr("y2", yPrice(lastPrice))
    .attr("stroke", "#2962ff").attr("stroke-width", 2).attr("stroke-dasharray", "2,5");

// candles
var candle = main.append("g").selectAll("g").data(bars).enter().append("g");
candle.append("line")
    .attr("x1", function(d) { return x(d.date); })
    .attr("x2", function(d) { return x(d.date); })
    .attr("y1", function(d) { return yPrice(d.h); })
    .attr("y2", function(d) { return yPrice(d.l); })
    .attr("stroke", function(d) { return d.c >= d.o ? UP : DOWN; })
    .attr("stroke-width", 2);
candle.append("rect")
    .attr("x", function(d) { return x(d.date) - 3.6; })
    .attr("width", 7.2)
    .attr("y", function(d) { return yPrice(Math.max(d.o, d.c)); })
    .attr("height", function(d) { return Math.max(2, Math.abs(yPrice(d.o) - yPrice(d.c))); })
    .attr("fill", function(d) { return d.c >= d.o ? UP_BODY : DOWN; })
    .attr("stroke", function(d) { return d.c >= d.o ? UP : DOWN; })
    .attr("stroke-width", 1);

// ---- indicator panes ----
function toSeries(arr) {
  return arr.map(function(v, i) { return {date: dates[i], v: v}; });
}
function lineFor(scale) {
  return d3.line()
      .x(function(d) { return x(d.date); })
      .y(function(d) { return scale(d.v); });
}
function hline(g, scale, value, color) {
  g.append("line")
      .attr("x1", plotL).attr("x2", plotR)
      .attr("y1", scale(value)).attr("y2", scale(value))
      .attr("stroke", color).attr("stroke-width", 2.4)
      .attr("stroke-dasharray", "12,10");
}

// RSI
var rsiG = svg.append("g").attr("clip-path", "url(#clip-rsi)");
var rsiData = toSeries(rsi);
rsiG.append("path").datum(rsiData)
    .attr("fill", "url(#rsiUp)")
    .attr("d", d3.area()
      .x(function(d) { return x(d.date); })
      .y0(yRsi(70))
      .y1(function(d) { return yRsi(Math.max(d.v, 70)); }));
rsiG.append("path").datum(rsiData)
    .attr("fill", "url(#rsiDn)")
    .attr("d", d3.area()
      .x(function(d) { return x(d.date); })
      .y0(yRsi(30))
      .y1(function(d) { return yRsi(Math.min(d.v, 30)); }));
hline(rsiG, yRsi, 70, "#787b86");
hline(rsiG, yRsi, 50, "#b2b5be");
hline(rsiG, yRsi, 30, "#787b86");
rsiG.append("path").datum(rsiData)
    .attr("d", lineFor(yRsi)).attr("fill", "none")
    .attr("stroke", "#7e57c2").attr("stroke-width", 2.2);

// Stoch
var stG = svg.append("g").attr("clip-path", "url(#clip-stoch)");
hline(stG, yStoch, 80, "#787b86");
hline(stG, yStoch, 50, "#b2b5be");
hline(stG, yStoch, 20, "#787b86");
stG.append("path").datum(toSeries(stochK))
    .attr("d", lineFor(yStoch)).attr("fill", "none")
    .attr("stroke", "#2962ff").attr("stroke-width", 2.2);
stG.append("path").datum(toSeries(stochD))
    .attr("d", lineFor(yStoch)).attr("fill", "none")
    .attr("stroke", "#ff6d00").attr("stroke-width", 2.2);

// ADX
var adxG = svg.append("g").attr("clip-path", "url(#clip-adx)");
adxG.append("path").datum(toSeries(adx))
    .attr("d", lineFor(yAdx)).attr("fill", "none")
    .attr("stroke", "#f23645").attr("stroke-width", 2.4);

// ---- price axes ----
function priceAxis(scale, ticks) {
  var g = svg.append("g").attr("transform", "translate(" + axisX + ",0)");
  g.call(d3.axisRight(scale).tickValues(ticks).tickSize(0).tickPadding(0)
      .tickFormat(d3.format(".2f")));
  g.select(".domain").remove();
  g.selectAll("text")
      .attr("font-family", AXIS_FONT).attr("font-size", 29)
      .attr("letter-spacing", 1.2).attr("fill", TEXT);
  return g;
}
priceAxis(yPrice, priceTicks);
priceAxis(yRsi, rsiTicks);
priceAxis(yStoch, stochTicks);
priceAxis(yAdx, adxTicks);

// red level labels on the price scale
[resistance.value, support.value].forEach(function(v) {
  var yy = yPrice(v);
  svg.append("rect")
      .attr("x", 3395).attr("y", yy - 23).attr("width", 128).attr("height", 46)
      .attr("rx", 4).attr("fill", DOWN);
  svg.append("text")
      .attr("x", axisX).attr("y", yy).attr("dy", "0.36em")
      .attr("font-family", AXIS_FONT).attr("font-size", 29).attr("letter-spacing", 1.2)
      .attr("fill", "#fff").text(d3.format(".2f")(v));
});

// USD box
svg.append("rect")
    .attr("x", 3410).attr("y", 63).attr("width", 136).attr("height", 50)
    .attr("rx", 9).attr("fill", "#fff").attr("stroke", "#e0e3eb").attr("stroke-width", 2);
svg.append("text")
    .attr("x", 3429).attr("y", 88).attr("dy", "0.36em")
    .attr("font-family", AXIS_FONT).attr("font-size", 24).attr("fill", TEXT)
    .text("USD");

// ---- time axis ----
var months = d3.utcMonth.range(parseDay("2025-02-01"), parseDay("2025-11-02"));
var tAxis = svg.append("g").attr("transform", "translate(0,1851)");
tAxis.call(d3.axisBottom(x).tickValues(months).tickSize(0).tickPadding(0)
    .tickFormat(d3.utcFormat("%b")));
tAxis.select(".domain").remove();
tAxis.selectAll("text")
    .attr("font-family", UI_FONT).attr("font-size", 31).attr("font-weight", 700)
    .attr("fill", TEXT);

// ---- legends ----
function legend(yy, parts) {
  var t = svg.append("text")
      .attr("x", 36).attr("y", yy)
      .attr("font-family", UI_FONT).attr("font-size", 25);
  parts.forEach(function(p) {
    t.append("tspan").attr("dx", p.gap || 0).attr("fill", p.color || TEXT).text(p.text);
  });
}
legend(96, [
  {text: "Avalanche / US Dollar \u00b7 1D \u00b7 Coinbase"},
  {text: "O", gap: 13}, {text: "13.23", color: UP},
  {text: "H", gap: 13}, {text: "13.43", color: UP},
  {text: "L", gap: 13}, {text: "13.20", color: UP},
  {text: "C", gap: 13}, {text: "13.32", color: UP},
  {text: "Vol", gap: 13}, {text: "361.86\u2009K", color: UP}
]);
legend(128, [{text: "EMA (50, close)"}, {text: "18.75", color: "#2962ff", gap: 14}]);
legend(162, [{text: "EMA (100, close)"}, {text: "21.10", color: "#e91e63", gap: 14}]);
legend(955, [{text: "RSI (14, close)"}, {text: "27.53", color: "#7e57c2", gap: 14}]);
legend(1260, [{text: "Stoch (14, 1, 3)"}, {text: "13.30", color: "#2962ff", gap: 14},
  {text: "12.59", color: "#ff6d00", gap: 14}]);
legend(1570, [{text: "ADX (14, 14)"}, {text: "50.84", color: "#f23645", gap: 14}]);

// ---- TradingView logo ----
var logo = svg.append("g").attr("fill", TEXT);
logo.append("rect").attr("x", 23).attr("y", 1943).attr("width", 33).attr("height", 11);
logo.append("rect").attr("x", 39).attr("y", 1943).attr("width", 17).attr("height", 32);
logo.append("circle").attr("cx", 66).attr("cy", 1949).attr("r", 6);
logo.append("path").attr("d", "M61,1975 L75,1975 L89,1943 L75,1943 Z");
svg.append("text")
    .attr("x", 99).attr("y", 1974)
    .attr("font-family", UI_FONT).attr("font-size", 43).attr("font-weight", 700)
    .attr("letter-spacing", -0.5).attr("fill", TEXT)
    .text("TradingView");

</script>
</body>
</html>
